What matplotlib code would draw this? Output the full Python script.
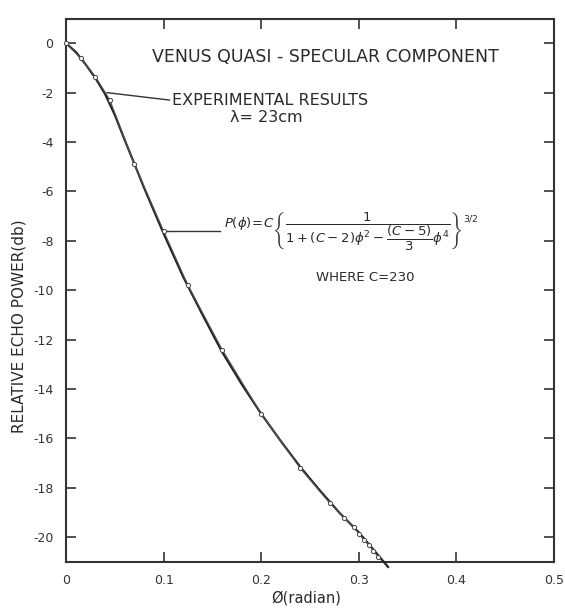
import matplotlib.pyplot as plt
import numpy as np

# --- data ---
phi_theory = [0.0, 0.01, 0.02, 0.03, 0.04, 0.05, 0.06, 0.08, 0.10, 0.12, 0.14,
              0.16, 0.18, 0.20, 0.22, 0.24, 0.26, 0.28, 0.30, 0.33]
p_theory = [0.0, -0.35, -0.85, -1.4, -2.05, -2.9, -3.9, -5.85, -7.7, -9.45, -11.0,
            -12.5, -13.8, -15.0, -16.1, -17.15, -18.1, -19.0, -19.8, -21.2]

phi_exp = [0.0, 0.015, 0.03, 0.045, 0.07, 0.10, 0.125, 0.16, 0.20, 0.24, 0.27, 0.285,
           0.295, 0.30, 0.305, 0.31, 0.315, 0.32]
p_exp = [0.0, -0.6, -1.35, -2.3, -4.9, -7.6, -9.8, -12.4, -15.0, -17.2, -18.6, -19.2,
         -19.6, -19.85, -20.1, -20.3, -20.55, -20.8]

x_ticks = [0, 0.1, 0.2, 0.3, 0.4, 0.5]
x_labels = ["0", "0.1", "0.2", "0.3", "0.4", "0.5"]
y_ticks = [0, -2, -4, -6, -8, -10, -12, -14, -16, -18, -20]

plt.rcParams.update({'font.family': 'DejaVu Sans', 'mathtext.fontset': 'dejavusans',
                     'axes.unicode_minus': False})
ink = '#2a2a2a'

fig = plt.figure(figsize=(5.65, 6.12), dpi=100)
ax = fig.add_axes([0.1168, 0.0817, 0.8637, 0.888])

ax.plot(phi_theory, p_theory, color='#222222', linewidth=1.6, clip_on=False, zorder=3)
ax.plot(phi_exp, p_exp, color='#555555', linewidth=0.8, marker='o', markersize=3,
        markerfacecolor='white', markeredgecolor='#444444', markeredgewidth=0.7,
        clip_on=False, zorder=4)

ax.set_xlim(0, 0.5)
ax.set_ylim(-21, 1)
ax.set_xticks(x_ticks)
ax.set_xticklabels(x_labels)
ax.set_yticks(y_ticks)
ax.tick_params(direction='in', length=7, width=1.2, top=True, right=True,
               labelsize=9, colors='#333333', pad=9)
for s in ax.spines.values():
    s.set_linewidth(1.5)
    s.set_color('#333333')

# axis titles
fig.text(306 / 565, 1 - 598 / 612, 'Ø(radian)', ha='center', va='center',
         fontsize=10.5, color=ink)
fig.text(19 / 565, 1 - 326 / 612, 'RELATIVE ECHO POWER(db)', ha='center', va='center',
         rotation=90, fontsize=11, color=ink)

# title and annotations
ax.text(0.266, -0.57, 'VENUS QUASI - SPECULAR COMPONENT', ha='center', va='center',
        fontsize=12.5, color=ink)
ax.text(0.1087, -2.32, 'EXPERIMENTAL RESULTS', ha='left', va='center', fontsize=11.5,
        color=ink)
ax.text(0.168, -3.0, 'λ= 23cm', ha='left', va='center', fontsize=11.5, color=ink)
ax.plot([0.042, 0.106], [-2.0, -2.3], color='#333333', linewidth=1.0)

ax.plot([0.1, 0.158], [-7.6, -7.6], color='#333333', linewidth=1.0)
ax.text(0.162, -7.6,
        r'$P(\phi)\!=\!C\left\{\dfrac{1}{1+(C-2)\phi^2-\dfrac{(C-5)}{3}\phi^4}\right\}^{3/2}$',
        ha='left', va='center', fontsize=9.5, color=ink)
ax.text(0.307, -9.5, 'WHERE C=230', ha='center', va='center', fontsize=9.5,
        color=ink)

fig.savefig('out.png', dpi=100)
